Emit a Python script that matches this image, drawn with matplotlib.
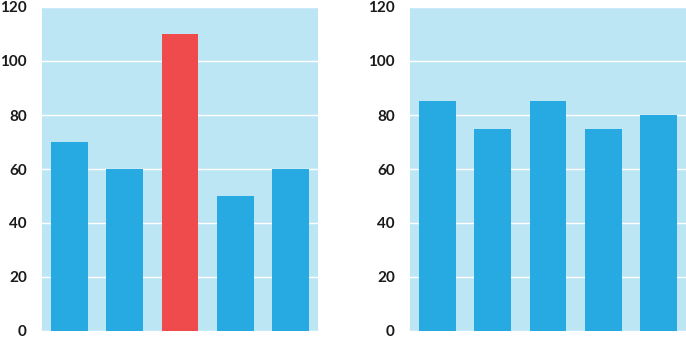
import matplotlib
matplotlib.use("Agg")
import matplotlib.pyplot as plt

categories = ["A", "B", "C", "D", "E"]
left_values = [70, 60, 110, 50, 60]
right_values = [85, 75, 85, 75, 80]
left_colors = ["#27aae1", "#27aae1", "#ef4b4c", "#27aae1", "#27aae1"]
right_colors = ["#27aae1"] * 5
yticks = [0, 20, 40, 60, 80, 100, 120]

plt.rcParams['font.family'] = ['Lato', 'DejaVu Sans']

fig = plt.figure(figsize=(6.86, 3.37), dpi=100)
W, H = 686, 337
ax1 = fig.add_axes([42 / W, 1 - 331 / H, 276 / W, 324 / H])
ax2 = fig.add_axes([410 / W, 1 - 331 / H, 276 / W, 324 / H])

for ax, vals, cols in [(ax1, left_values, left_colors), (ax2, right_values, right_colors)]:
    ax.set_facecolor("#bde6f5")
    ax.bar(range(len(categories)), vals, width=0.67, color=cols, zorder=3)
    ax.set_xlim(-0.5, 4.5)
    ax.set_ylim(0, 120)
    ax.set_yticks(yticks)
    ax.set_xticks([])
    ax.grid(axis="y", color="white", linewidth=1, zorder=1)
    for s in ax.spines.values():
        s.set_visible(False)
    ax.tick_params(axis="y", length=0, pad=10.8, labelsize=11, labelcolor="#1a1a1a")
    for lab in ax.get_yticklabels():
        lab.set_fontweight("bold")

fig.savefig("out.png", dpi=100)
